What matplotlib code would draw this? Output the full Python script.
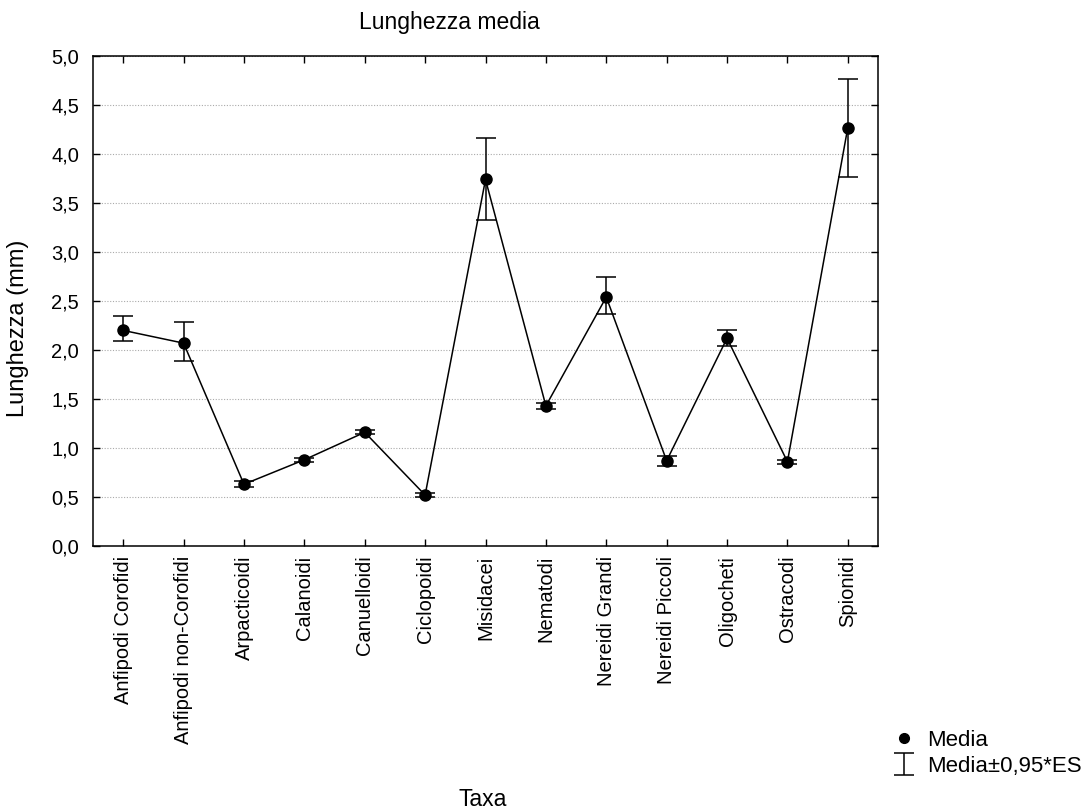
import matplotlib
matplotlib.use("Agg")
import matplotlib.pyplot as plt
from matplotlib.lines import Line2D
from matplotlib.ticker import FuncFormatter

categories = ["Anfipodi Corofidi", "Anfipodi non-Corofidi", "Arpacticoidi", "Calanoidi",
              "Canuelloidi", "Ciclopoidi", "Misidacei", "Nematodi", "Nereidi Grandi",
              "Nereidi Piccoli", "Oligocheti", "Ostracodi", "Spionidi"]
media = [2.20, 2.07, 0.63, 0.88, 1.16, 0.52, 3.74, 1.43, 2.54, 0.87, 2.12, 0.86, 4.27]
err_low = [2.09, 1.89, 0.60, 0.86, 1.14, 0.50, 3.33, 1.40, 2.37, 0.82, 2.04, 0.84, 3.77]
err_high = [2.35, 2.29, 0.66, 0.90, 1.18, 0.54, 4.16, 1.46, 2.75, 0.92, 2.20, 0.88, 4.77]
yticks = [0.0, 0.5, 1.0, 1.5, 2.0, 2.5, 3.0, 3.5, 4.0, 4.5, 5.0]

plt.rcParams['font.family'] = ['Liberation Sans', 'DejaVu Sans']
FS_TICK = 14.5
FS_LAB = 16.5

fig = plt.figure(figsize=(10.88, 8.09), dpi=100)
ax = fig.add_axes([93/1088, 1-546/809, (878-93)/1088, (546-56)/809])

x = list(range(len(categories)))
yerr = [[m - lo for m, lo in zip(media, err_low)], [hi - m for m, hi in zip(media, err_high)]]

ax.errorbar(x, media, yerr=yerr, fmt='none', ecolor='black', elinewidth=1.1,
            capsize=7, capthick=1.1, label='Media±0,95*ES', zorder=3)
ax.plot(x, media, color='black', linewidth=1.1, marker='o', markersize=8,
        label='Media', zorder=4)

ax.set_xlim(-0.5, len(categories) - 0.5)
ax.set_ylim(0, 5)
ax.set_yticks(yticks)
ax.yaxis.set_major_formatter(FuncFormatter(lambda v, p: f"{v:.1f}".replace('.', ',')))
ax.set_xticks(x)
ax.set_xticklabels(categories, rotation=90)
ax.tick_params(axis='both', direction='in', length=5, width=1, labelsize=FS_TICK,
               top=True, right=True, color='black')
ax.tick_params(axis='x', pad=7)
ax.tick_params(axis='y', pad=10)
for sp in ax.spines.values():
    sp.set_linewidth(1.1)
ax.yaxis.grid(True, linestyle=(0, (1, 1.5)), color='#aaaaaa', linewidth=0.8)
ax.set_axisbelow(True)

fig.text(18/1088, 1-328/809, "Lunghezza (mm)", rotation=90, ha='center', va='center', fontsize=17)
fig.text(449/1088, 1-22/809, "Lunghezza media", ha='center', va='center', fontsize=FS_LAB)
fig.text(483/1088, 1-799/809, "Taxa", ha='center', va='center', fontsize=FS_LAB)

h_line = Line2D([], [], color='black', marker='o', markersize=7, linestyle='none')
handles, labels = ax.get_legend_handles_labels()
err_handle = handles[labels.index('Media±0,95*ES')]
fig.legend([h_line, err_handle], ['Media', 'Media±0,95*ES'], loc='lower left',
           bbox_to_anchor=(880/1088, 1-790/809), frameon=False, fontsize=16,
           handlelength=1.0, handletextpad=0.5, labelspacing=0.2, borderpad=0.1)

fig.savefig("out.png", dpi=100)
